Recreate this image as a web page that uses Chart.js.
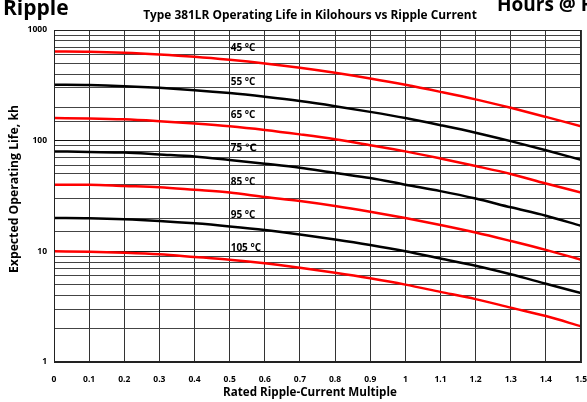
<!DOCTYPE html>
<html>
<head>
<meta charset="utf-8">
<script src="https://cdn.jsdelivr.net/npm/chart.js@4"></script>
<style>
  html, body { margin: 0; padding: 0; background: #fff; }
  #wrap { width: 587px; height: 402px; position: relative; }
</style>
</head>
<body>
<div id="wrap"><canvas id="chart"></canvas></div>
<script>
const xValues = [0, 0.1, 0.2, 0.3, 0.4, 0.5, 0.6, 0.7, 0.8, 0.9, 1, 1.1, 1.2, 1.3, 1.4, 1.5];
const xTickLabels = ['0', '0.1', '0.2', '0.3', '0.4', '0.5', '0.6', '0.7', '0.8', '0.9', '1', '1.1', '1.2', '1.3', '1.4', '1.5'];
const yTickLabels = [1, 10, 100, 1000];

const tempLabels = ['45 °C', '55 °C', '65 °C', '75 ℃', '85 °C', '95 °C', '105 °C'];
const life45 = [640, 636, 623, 601, 573, 538, 499, 456, 411, 365, 320, 276, 236, 198, 164, 135];
const life55 = [320, 318, 311, 300, 286, 269, 249, 228, 205, 182, 160, 138, 118, 99, 82, 67];
const life65 = [160, 159, 156, 150, 143, 135, 125, 114, 103, 91, 80, 69, 59, 50, 41, 34];
const life75 = [80, 79, 78, 75, 72, 67, 62, 57, 51, 46, 40, 35, 30, 25, 21, 17];
const life85 = [40, 40, 39, 38, 36, 34, 31, 28.5, 25.7, 22.8, 20, 17.3, 14.8, 12.4, 10.3, 8.4];
const life95 = [20, 19.9, 19.5, 18.8, 17.9, 16.8, 15.6, 14.2, 12.8, 11.4, 10, 8.6, 7.4, 6.2, 5.1, 4.2];
const life105 = [10, 9.9, 9.7, 9.4, 8.9, 8.4, 7.8, 7.1, 6.4, 5.7, 5.0, 4.3, 3.7, 3.1, 2.6, 2.1];

const allSeries = [life45, life55, life65, life75, life85, life95, life105];
const colors = ['#ff0000', '#000000', '#ff0000', '#000000', '#ff0000', '#000000', '#ff0000'];

const FONT = "'Open Sans', 'DejaVu Sans', sans-serif";

const datasets = allSeries.map((s, i) => ({
  label: tempLabels[i],
  data: s.map((v, j) => ({ x: xValues[j], y: v })),
  borderColor: colors[i],
  borderWidth: 2.5,
  pointRadius: 0,
  tension: 0.4,
  cubicInterpolationMode: 'monotone',
  fill: false
}));

// bold text squeezed/stretched to a given width
function fitText(ctx, text, x, y, width, size) {
  ctx.font = 'bold ' + size + 'px ' + FONT;
  const w = ctx.measureText(text).width;
  const s = Math.max(8, Math.min(14, size * width / w));
  ctx.font = 'bold ' + s.toFixed(2) + 'px ' + FONT;
  ctx.fillText(text, x, y);
}

// texts around the plot and the temperature labels
const extraText = {
  id: 'extraText',
  afterDatasetsDraw(chart) {
    const ctx = chart.ctx;
    const xs = chart.scales.x, ys = chart.scales.y;
    ctx.save();
    ctx.fillStyle = '#000';
    ctx.textBaseline = 'middle';
    ctx.textAlign = 'left';
    ctx.font = "bold 10px " + FONT;
    allSeries.forEach((s, i) => {
      ctx.fillText(tempLabels[i], xs.getPixelForValue(0.5) + 1, ys.getPixelForValue(s[0]) - 3);
    });
    ctx.restore();
  },
  afterDraw(chart) {
    const ctx = chart.ctx;
    const a = chart.chartArea;
    ctx.save();
    ctx.fillStyle = '#000';
    ctx.textBaseline = 'alphabetic';
    ctx.textAlign = 'left';
    ctx.font = "bold 21px " + FONT;
    ctx.fillText('Ripple', 3, 15);
    ctx.font = "bold 19px " + FONT;
    ctx.fillText('Hours @ R', 497, 11);
    ctx.textAlign = 'center';
    ctx.textBaseline = 'middle';
    fitText(ctx, 'Type 381LR Operating Life in Kilohours vs Ripple Current', 310, 16, 334, 11);
    fitText(ctx, 'Rated Ripple-Current Multiple', 310, 393, 174, 11);
    ctx.save();
    ctx.translate(15, 189);
    ctx.rotate(-Math.PI / 2);
    fitText(ctx, 'Expected Operating Life, kh', 0, 0, 168, 10);
    ctx.restore();
    // frame
    ctx.strokeStyle = '#222';
    ctx.lineWidth = 1;
    ctx.strokeRect(a.left + 0.5, a.top + 0.5, a.right - a.left - 1, a.bottom - a.top - 1);
    ctx.restore();
  }
};

new Chart(document.getElementById('chart'), {
  type: 'line',
  data: { datasets: datasets },
  options: {
    responsive: true,
    maintainAspectRatio: false,
    animation: false,
    layout: { padding: { top: 30, right: 6, left: 0, bottom: 0 } },
    plugins: {
      legend: { display: false },
      tooltip: { enabled: false }
    },
    scales: {
      x: {
        type: 'linear',
        min: 0,
        max: 1.5,
        afterBuildTicks: axis => { axis.ticks = xValues.map(v => ({ value: v })); },
        afterFit: axis => {
          axis.height = 40;
          axis.paddingLeft = 0;
          axis.paddingRight = 0;
        },
        ticks: {
          color: '#000',
          font: { family: FONT, size: 8.5, weight: 'bold' },
          maxRotation: 0,
          autoSkip: false,
          padding: 12,
          callback: (v, i) => xTickLabels[i]
        },
        grid: { color: '#333', lineWidth: 1, drawTicks: false },
        border: { color: '#222' }
      },
      y: {
        type: 'logarithmic',
        min: 1,
        max: 1000,
        afterFit: axis => {
          axis.width = 54;
          axis.paddingTop = 0;
          axis.paddingBottom = 0;
        },
        ticks: {
          color: '#000',
          font: { family: FONT, size: 8.5, weight: 'bold' },
          autoSkip: false,
          padding: 7,
          callback: v => yTickLabels.includes(v) ? String(v) : ''
        },
        grid: {
          drawTicks: false,
          color: ctx => yTickLabels.includes(ctx.tick && ctx.tick.value) ? '#111' : '#444',
          lineWidth: 1
        },
        border: { color: '#222' }
      }
    }
  },
  plugins: [extraText]
});
</script>
</body>
</html>
